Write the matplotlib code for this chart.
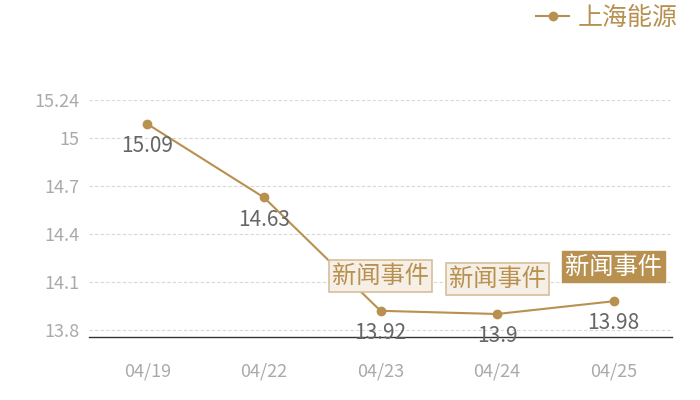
import matplotlib
matplotlib.use('Agg')
import matplotlib.pyplot as plt

plt.rcParams['font.family'] = ['Noto Sans CJK SC', 'DejaVu Sans']

# datos
dates = ['04/19', '04/22', '04/23', '04/24', '04/25']
values = [15.09, 14.63, 13.92, 13.9, 13.98]
yticks = [13.8, 14.1, 14.4, 14.7, 15, 15.24]
series_name = '上海能源'
event_idx = [2, 3, 4]        # puntos con "新闻事件"
event_active = [False, False, True]
event_text = '新闻事件'

gold = '#b8904f'

fig = plt.figure(figsize=(7, 4), dpi=100)
ax = fig.add_axes([89/700, 63/400, 583/700, 237/400])

x = list(range(len(dates)))
ax.plot(x, values, color=gold, lw=1.5, marker='o', ms=6, label=series_name)

# etiquetas de valor debajo de cada punto
for xi, v in zip(x, values):
    ax.annotate(f'{v:g}', (xi, v), xytext=(0, -16), textcoords='offset points',
                ha='center', va='center', fontsize=15, color='#666666')

# cajas de eventos
for k, i in enumerate(event_idx):
    if event_active[k]:
        box = dict(boxstyle='square,pad=0.12', fc=gold, ec=gold, lw=1)
        tc = 'white'
    else:
        box = dict(boxstyle='square,pad=0.12', fc='#f5efe6', ec='#d6bf98', lw=1.2)
        tc = gold
    ax.annotate(event_text, (i, values[i]), xytext=(0, 25), textcoords='offset points',
                ha='center', va='center', fontsize=17.5, color=tc, bbox=box)

ax.set_xlim(-0.5, len(dates) - 0.5)
ax.set_ylim(13.756, 15.24)
ax.set_xticks(x)
ax.set_xticklabels(dates)
ax.set_yticks(yticks)
ax.set_yticklabels([f'{t:g}' for t in yticks])
ax.tick_params(length=0, labelsize=13, labelcolor='#aaaaaa')
ax.tick_params(axis='x', pad=18)
ax.tick_params(axis='y', pad=7)
ax.grid(axis='y', color='#d8d8d8', ls=(0, (3, 2)), lw=0.8)
ax.set_axisbelow(True)
for s in ['top', 'right', 'left']:
    ax.spines[s].set_visible(False)
ax.spines['bottom'].set_color('#333333')
ax.spines['bottom'].set_linewidth(1)

leg = fig.legend(loc='upper right', bbox_to_anchor=(1.0, 1.045), frameon=False,
                 fontsize=18, handlelength=1.3, handletextpad=0.35)
for t in leg.get_texts():
    t.set_color(gold)

fig.savefig('out.png', dpi=100)
